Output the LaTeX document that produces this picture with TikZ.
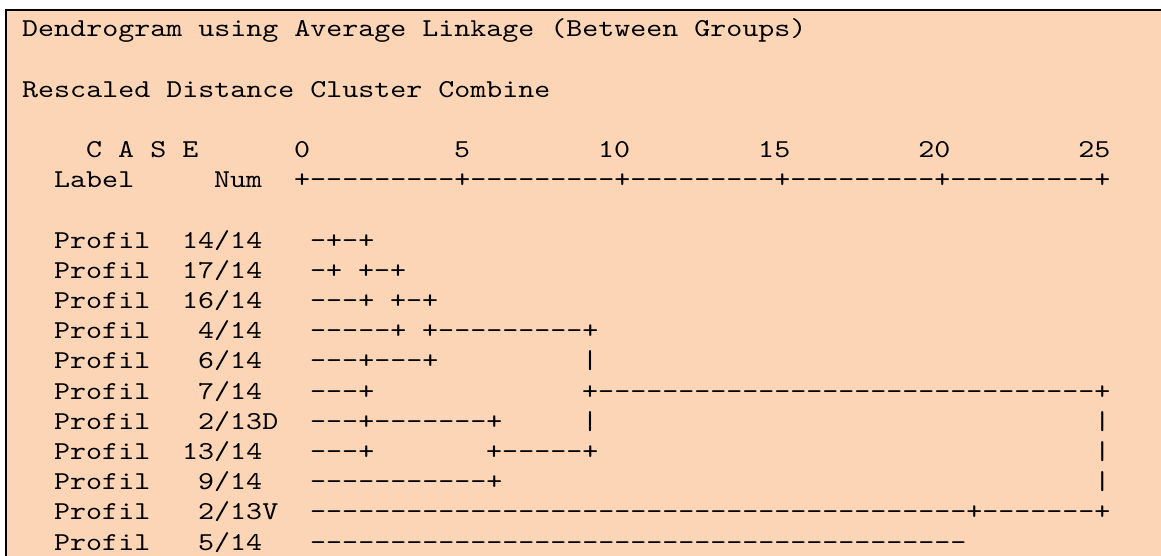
\documentclass[tikz,border=0pt]{standalone}
\usepackage{fontspec}
\newfontfamily\dendrofont{lmmono10-regular.otf}[FakeStretch=1.1827]
\definecolor{peach}{RGB}{251,213,181}
\tikzset{
    txt/.style={anchor=base west, inner sep=0pt, text=black,
        font=\dendrofont\fontsize{22pt}{26pt}\selectfont},
    frame/.style={line width=2, draw=black}
}
% column and row of the listing -> position
\newcommand{\cx}[1]{22+16*#1}
\newcommand{\ry}[1]{36.7+30.2*#1}

\begin{document}
\begin{tikzpicture}[x=0.03cm, y=-0.03cm]

    \useasboundingbox (0,0) rectangle (1161,555);

    %% Output box
    \fill[peach] (6,10.3) rectangle (1175,570);
    \draw[frame] (6,570) -- (6,10.3) -- (1175,10.3);

    %% Header
    \node[txt] (title) at ({\cx{0}},{\ry{0}}) {Dendrogram using Average Linkage (Between Groups)};
    \node[txt] (subtitle) at ({\cx{0}},{\ry{2}}) {Rescaled Distance Cluster Combine};

    % Scale
    \node[txt] (case) at ({\cx{4}},{\ry{4}}) {C A S E};
    \foreach \c/\t in {17/0, 27/5, 36/10, 46/15, 56/20, 66/25}
        \node[txt] (tick\t) at ({\cx{\c}},{\ry{4}}) {\t};
    \node[txt] (label) at ({\cx{2}},{\ry{5}}) {Label};
    \node[txt] (num) at ({\cx{12}},{\ry{5}}) {Num};
    \node[txt] (scale) at ({\cx{17}},{\ry{5}}) {+---------+---------+---------+---------+---------+};

    %% Cases
    \foreach \r in {7,...,17}
        \node[txt] (profil\r) at ({\cx{2}},{\ry{\r}}) {Profil};
    \foreach \r/\c/\a/\b in {7/10/14/14, 8/10/17/14, 9/10/16/14, 10/11/4/14, 11/11/6/14,
            12/11/7/14, 13/11/2/13D, 14/10/13/14, 15/11/9/14, 16/11/2/13V, 17/11/5/14}
        \node[txt] (case\r) at ({\cx{\c}},{\ry{\r}}) {\a/\b};

    %% Tree
    % 14/14, 17/14, 16/14, 4/14
    \node[txt] (t7) at ({\cx{18}},{\ry{7}}) {-+-+};
    \node[txt] (t8a) at ({\cx{18}},{\ry{8}}) {-+};
    \node[txt] (t8b) at ({\cx{21}},{\ry{8}}) {+-+};
    \node[txt] (t9a) at ({\cx{18}},{\ry{9}}) {---+};
    \node[txt] (t9b) at ({\cx{23}},{\ry{9}}) {+-+};
    \node[txt] (t10a) at ({\cx{18}},{\ry{10}}) {-----+};
    \node[txt] (t10b) at ({\cx{25}},{\ry{10}}) {+---------+};

    % 6/14, 7/14
    \node[txt] (t11a) at ({\cx{18}},{\ry{11}}) {---+---+};
    \node[txt] (t11b) at ({\cx{35}},{\ry{11}}) {|};
    \node[txt] (t12a) at ({\cx{18}},{\ry{12}}) {---+};
    \node[txt] (t12b) at ({\cx{35}},{\ry{12}}) {+-------------------------------+};

    % 2/13D, 13/14, 9/14
    \node[txt] (t13a) at ({\cx{18}},{\ry{13}}) {---+-------+};
    \node[txt] (t13b) at ({\cx{35}},{\ry{13}}) {|};
    \node[txt] (t13c) at ({\cx{67}},{\ry{13}}) {|};
    \node[txt] (t14a) at ({\cx{18}},{\ry{14}}) {---+};
    \node[txt] (t14b) at ({\cx{29}},{\ry{14}}) {+-----+};
    \node[txt] (t14c) at ({\cx{67}},{\ry{14}}) {|};
    \node[txt] (t15a) at ({\cx{18}},{\ry{15}}) {-----------+};
    \node[txt] (t15b) at ({\cx{67}},{\ry{15}}) {|};

    % 2/13V, 5/14
    \node[txt] (t16) at ({\cx{18}},{\ry{16}}) {-----------------------------------------+-------+};
    \node[txt] (t17) at ({\cx{18}},{\ry{17}}) {-----------------------------------------};

\end{tikzpicture}
\end{document}
